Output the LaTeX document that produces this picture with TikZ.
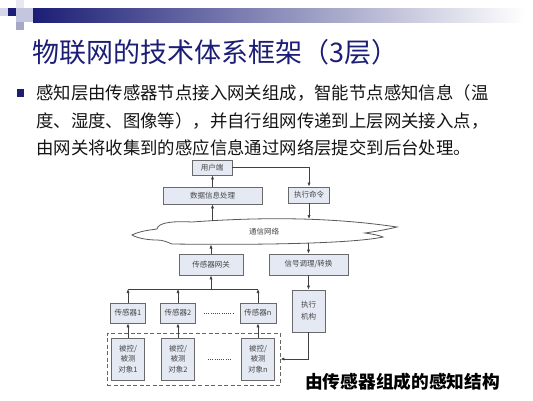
\documentclass[tikz,border=0pt]{standalone}
\usepackage{fontspec}
\setmainfont{Noto Sans CJK SC}
\usetikzlibrary{arrows.meta}
\definecolor{navy}{RGB}{28,30,118}
\definecolor{lavA}{RGB}{214,214,234}
\definecolor{lavB}{RGB}{196,198,224}
\definecolor{lavC}{RGB}{166,168,200}
\definecolor{lavD}{RGB}{232,232,242}
\definecolor{bodytext}{RGB}{20,20,20}
\definecolor{boxfill}{RGB}{228,233,243}
\definecolor{boxline}{RGB}{105,105,105}
\definecolor{boxtext}{RGB}{70,70,70}
\begin{document}
\begin{tikzpicture}[x=1pt,y=-1pt,
  box/.style={draw=boxline,fill=boxfill,line width=0.8pt,inner sep=0pt,
    text=boxtext,font=\fontsize{7.5}{10.5}\selectfont,align=center},
  arr/.style={draw=black!75,line width=0.7pt,-{Latex[length=4pt,width=3.2pt]}},
  ln/.style={draw=black!75,line width=0.7pt},
  dotline/.style={black!70,line width=0.8pt,dash pattern=on 0.8pt off 1.4pt},
  textline/.style={anchor=west,inner sep=0pt,text=bodytext,font=\fontsize{17.4}{20}\selectfont}]
\useasboundingbox (0,0) rectangle (533,400);
% header decoration
\fill[lavD] (16,0) rectangle (24,8);
\fill[lavA] (0,8) rectangle (8,16);
\fill[navy] (8,8) rectangle (16,16);
\fill[lavB] (16,8) rectangle (33,22);
\fill[lavC] (16,22) rectangle (24,30);
\shade[left color=navy,right color=white] (33,8) rectangle (525,22);
% title
\node[anchor=west,inner sep=0pt,text=navy,font=\fontsize{27}{30}\selectfont] (title) at (32,52) {物联网的技术体系框架（3层）};
% bullet
\fill[navy] (16.5,89) rectangle (24,96.5);
\node[textline] (l1) at (36,93) {感知层由传感器节点接入网关组成，智能节点感知信息（温};
\node[textline] (l2) at (36,120.5) {度、湿度、图像等），并自行组网传递到上层网关接入点，};
\node[textline] (l3) at (36,147.5) {由网关将收集到的感应信息通过网络层提交到后台处理。};
% boxes
\node[box,minimum width=40pt,minimum height=15pt] (user) at (212,167.5) {用户端};
\node[box,minimum width=99pt,minimum height=17pt] (data) at (212.5,195.5) {数据信息处理};
\node[box,minimum width=41pt,minimum height=16pt] (cmd) at (309,195) {执行命令};
\node[box,minimum width=64pt,minimum height=21pt] (gw) at (211,264.5) {传感器网关};
\node[box,minimum width=79pt,minimum height=21pt] (sig) at (308.5,264.5) {信号调理/转换};
\node[box,minimum width=33pt,minimum height=42pt,font=\fontsize{7.5}{12}\selectfont] (act) at (308.5,311) {执行\\机构};
\node[box,minimum width=35pt,minimum height=20pt] (s1) at (128,313) {传感器1};
\node[box,minimum width=35pt,minimum height=20pt] (s2) at (178,313) {传感器2};
\node[box,minimum width=36pt,minimum height=20pt] (sn) at (258,313) {传感器n};
\node[draw=black!60,line width=0.9pt,dash pattern=on 4pt off 2.5pt,minimum width=173pt,minimum height=52pt,inner sep=0pt] (field) at (193.5,359) {};
\node[box,minimum width=33pt,minimum height=42pt] (o1) at (128,359) {被控/\\被测\\对象1};
\node[box,minimum width=33pt,minimum height=42pt] (o2) at (178,359) {被控/\\被测\\对象2};
\node[box,minimum width=33pt,minimum height=42pt] (on) at (258,359) {被控/\\被测\\对象n};
% cloud
\draw[draw=black!65,line width=0.8pt,fill=white] (132,235)
  .. controls (140,231) and (150,230) .. (157,229)
  .. controls (158,222) and (175,221) .. (192,222)
  .. controls (260,217) and (330,217) .. (397,227)
  .. controls (385,230) and (372,232) .. (365,233)
  .. controls (372,234) and (378,235) .. (383,237)
  .. controls (350,244) and (250,245) .. (172,244)
  .. controls (167,242) and (163,240) .. (157,240)
  .. controls (147,240) and (137,238) .. (132,235) -- cycle;
\node[text=boxtext,font=\fontsize{7.5}{9}\selectfont,inner sep=0pt] (net) at (264,232) {通信网络};
\coordinate (cT1) at (212.5,221);
\coordinate (cT2) at (309,219);
\coordinate (cB1) at (211,244.5);
\coordinate (cB2) at (308.5,243);
\coordinate (bus) at (0,289);
% connectors
\draw[arr] (data.north) -- (data.north |- user.south);
\draw[arr] (user.east) -| (cmd.north);
\draw[arr] (cT1) -- (data.south);
\draw[arr] (cmd.south) -- (cT2);
\draw[arr] (gw.north) -- (cB1);
\draw[arr] (cB2) -- (sig.north);
\draw[arr] (sig.south) -- (act.north);
\draw[arr] (act.south) |- (field.east);
\draw[ln] (s1.north |- bus) -- (sn.north |- bus);
\draw[arr] (gw.south |- bus) -- (gw.south);
\draw[arr] (s1.north) -- (s1.north |- bus);
\draw[arr] (s2.north) -- (s2.north |- bus);
\draw[arr] (sn.north) -- (sn.north |- bus);
\draw[arr] (o1.north) -- (s1.south);
\draw[arr] (o2.north) -- (s2.south);
\draw[arr] (on.north) -- (sn.south);
% dots
\draw[dotline,shorten <=8pt,shorten >=6pt] (s2.east) -- (sn.west);
\draw[dotline,shorten <=13pt,shorten >=10pt] (o2.east) -- (on.west);
% caption
\node[anchor=west,inner sep=0pt,text=black,font=\fontsize{17.7}{20}\selectfont\bfseries] (cap) at (305,382) {由传感器组成的感知结构};
\end{tikzpicture}
\end{document}
